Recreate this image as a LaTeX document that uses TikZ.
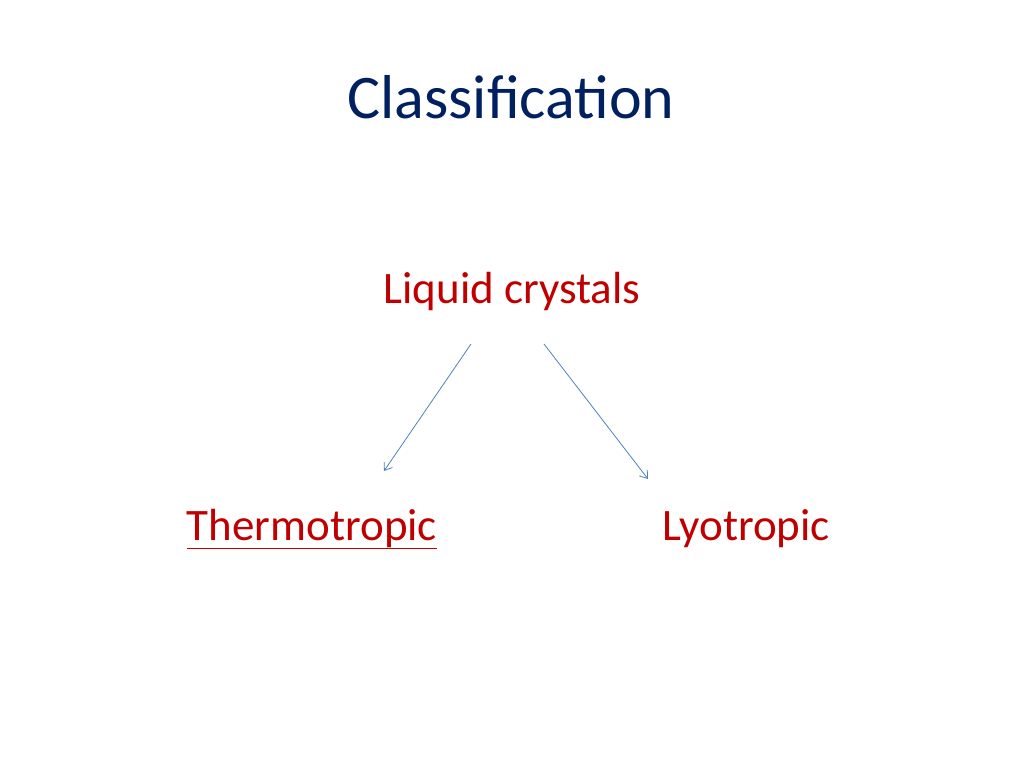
\documentclass[tikz,border=0pt]{standalone}
\usepackage{fontspec}
\setmainfont{Carlito}
\definecolor{navy}{RGB}{0,32,96}
\definecolor{dred}{RGB}{192,0,0}
\definecolor{ablue}{RGB}{79,129,189}
\begin{document}
\begin{tikzpicture}[x=1pt,y=-1pt,
  title/.style={text=navy,font=\fontsize{62}{70}\selectfont,inner sep=0pt},
  item/.style={text=dred,font=\fontsize{45}{52}\selectfont,inner sep=0pt},
  arr/.style={draw=ablue,line width=0.8pt,-{Straight Barb[length=7pt,width=10pt]}}]
\useasboundingbox (0,0) rectangle (1024,768);
\usetikzlibrary{arrows.meta}
\node[title] (t) at (511,97) {Classification};
\node[item] (lc) at (512,291) {Liquid crystals};
\node[item,anchor=base] (th) at (312,540) {\underline{Thermotropic}};
\node[item,anchor=base] (ly) at (746,540) {Lyotropic};
\coordinate (a1) at (471,344);
\coordinate (b1) at (384,471);
\coordinate (a2) at (544,344);
\coordinate (b2) at (648,479);
\draw[arr] (a1) -- (b1);
\draw[arr] (a2) -- (b2);
\end{tikzpicture}
\end{document}
